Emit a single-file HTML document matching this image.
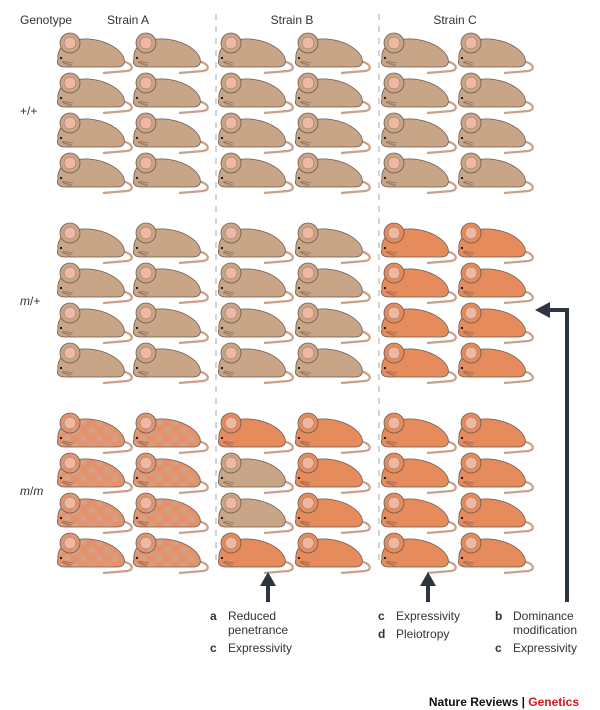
<!DOCTYPE html>
<html><head><meta charset="utf-8"><style>
body{margin:0;background:#fff}
svg{display:block}
text{font-family:"Liberation Sans",sans-serif;fill:#333}
</style></head><body>
<svg id="fig" width="600" height="710" viewBox="0 0 600 710">
<defs>
<filter id="soft"><feGaussianBlur stdDeviation="1.5"/></filter>
<pattern id="mottle" width="16" height="16" patternUnits="userSpaceOnUse">
<rect width="16" height="16" fill="#e3916a"/>
<g filter="url(#soft)"><rect x="1" y="1" width="7" height="7" fill="#d6a286"/>
<rect x="9" y="9" width="7" height="7" fill="#d6a286"/></g>
</pattern>
</defs>
<g font-size="12">
<text x="20" y="24">Genotype</text>
<text x="128" y="24" text-anchor="middle">Strain A</text>
<text x="292" y="24" text-anchor="middle">Strain B</text>
<text x="455" y="24" text-anchor="middle">Strain C</text>
</g>
<line x1="216" y1="14" x2="216" y2="560" stroke="#aaa" stroke-dasharray="6,6"/>
<line x1="379" y1="14" x2="379" y2="560" stroke="#aaa" stroke-dasharray="6,6"/>
<g font-size="12">
<text x="20" y="115">+/+</text>
<text x="20" y="305"><tspan font-style="italic">m</tspan>/+</text>
<text x="20" y="495"><tspan font-style="italic">m</tspan>/<tspan font-style="italic">m</tspan></text>
</g>
<g id="mice"></g>
<g fill="#2d3540" stroke="#2d3540">
<line x1="268" y1="602" x2="268" y2="584" stroke-width="4"/>
<polygon points="260,586 276,586 268,572" stroke="none"/>
<line x1="428" y1="602" x2="428" y2="584" stroke-width="4"/>
<polygon points="420,586 436,586 428,572" stroke="none"/>
<polyline points="567,602 567,310 548,310" fill="none" stroke-width="4"/>
<polygon points="550,302 550,318 535,310" stroke="none"/>
</g>
<g font-size="12">
<text x="210" y="620" font-weight="bold" fill="#000">a</text><text x="228" y="620">Reduced</text>
<text x="228" y="634">penetrance</text>
<text x="210" y="652" font-weight="bold" fill="#000">c</text><text x="228" y="652">Expressivity</text>
<text x="378" y="620" font-weight="bold" fill="#000">c</text><text x="396" y="620">Expressivity</text>
<text x="378" y="638" font-weight="bold" fill="#000">d</text><text x="396" y="638">Pleiotropy</text>
<text x="495" y="620" font-weight="bold" fill="#000">b</text><text x="513" y="620">Dominance</text>
<text x="513" y="634">modification</text>
<text x="495" y="652" font-weight="bold" fill="#000">c</text><text x="513" y="652">Expressivity</text>
</g>
<text x="579" y="706" text-anchor="end" font-size="12" font-weight="bold"><tspan fill="#111">Nature Reviews</tspan><tspan fill="#111"> | </tspan><tspan fill="#d7141a">Genetics</tspan></text>
</svg>
<script>
// coat: t = tan (wild type), o = orange (mutant), m = mottled
const colX = [55,131,216,293,379,456];
const rowY = [30,70,110,150, 220,260,300,340, 410,450,490,530];
const coats = [
"tttttt","tttttt","tttttt","tttttt",
"ttttoo","ttttoo","ttttoo","ttttoo",
"mmoooo","mmtooo","mmtooo","mmoooo"
];
const fills = {t:"#c9a587", o:"#e58b5c", m:"url(#mottle)"};
const g = document.getElementById('mice');
const NS = "http://www.w3.org/2000/svg";
function mk(tag, attrs, parent){const e=document.createElementNS(NS,tag);for(const k in attrs)e.setAttribute(k,attrs[k]);parent.appendChild(e);return e;}
rowY.forEach((y,ri)=>{
  colX.forEach((x,ci)=>{
    const c = coats[ri][ci];
    const m = document.createElementNS(NS,'g');
    
    
    m.setAttribute('transform','translate('+x+','+y+')');
    g.appendChild(m);
    mk('path',{d:"M66 31 C78 33 80 40 72 41 L48 43",fill:"none",stroke:"#c9a08a","stroke-width":"2.2"},m);
    mk('path',{d:"M3 29 C2 22 6 15 14 12 C28 6 50 9 63 20 C71 27 72 36 63 37 L10 37 C4 37 1 34 3 29 Z",fill:fills[c],stroke:"#6d5a4e","stroke-width":"0.8"},m);
    mk('circle',{cx:15,cy:13,r:10,fill:fills[c],stroke:"#6d5a4e","stroke-width":"0.8"},m);
    mk('circle',{cx:15,cy:13,r:6,fill:"#efb8a2",stroke:"#8a6a5a","stroke-width":"0.5"},m);
    mk('circle',{cx:6,cy:28,r:1.1,fill:"#111"},m);
    mk('path',{d:"M7 32 L17 35 M7 32 L16 37 M8 31 L18 33",stroke:"#6d5a4e","stroke-width":"0.5",fill:"none"},m);
  });
});
</script>
</body></html>
